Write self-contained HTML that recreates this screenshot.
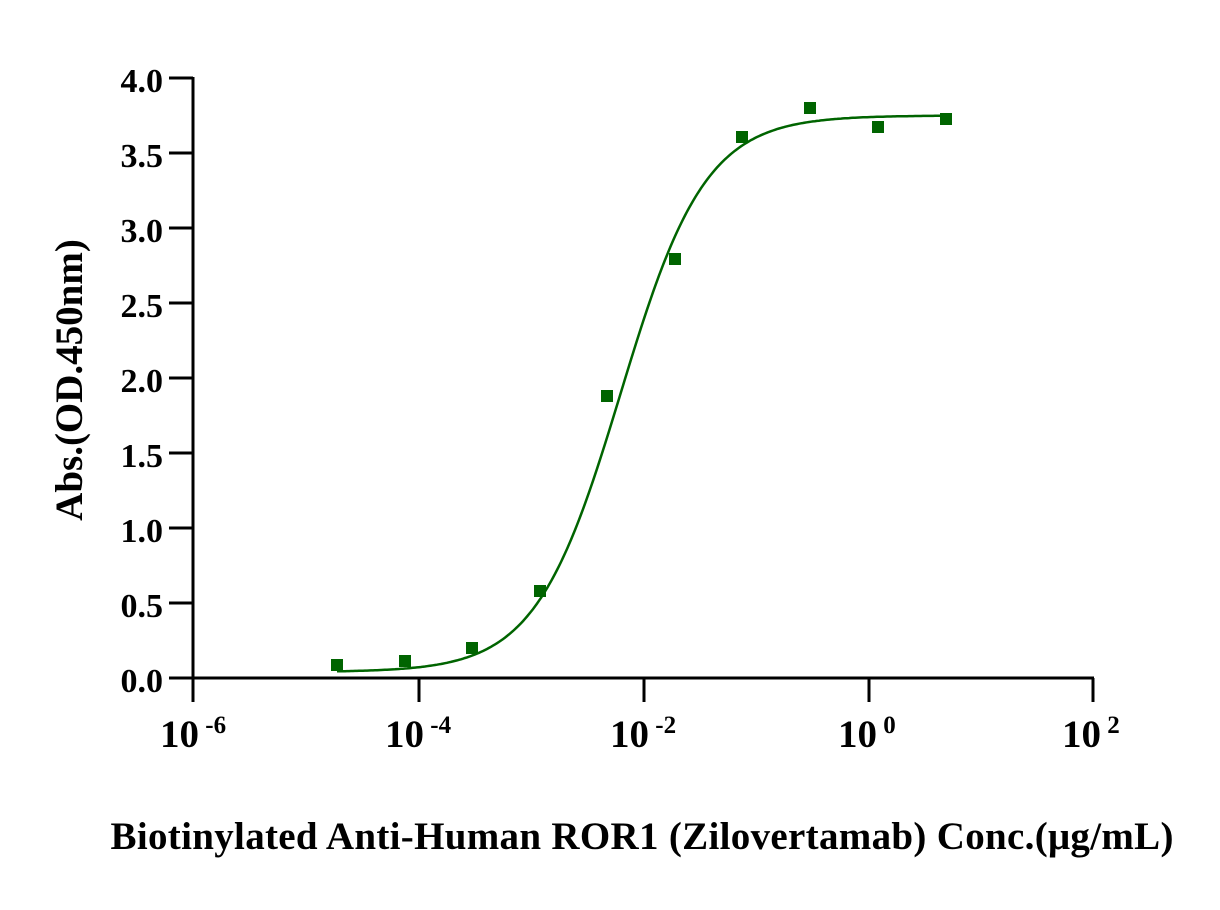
<!DOCTYPE html>
<html><head><meta charset="utf-8"><style>
html,body{margin:0;padding:0;background:#fff;}
svg text{font-family:"Liberation Serif",serif;font-weight:bold;fill:#000;}
</style></head><body>
<svg id="s" width="1220" height="905" xmlns="http://www.w3.org/2000/svg">
<g stroke="#000" stroke-width="3" fill="none">
<line x1="193" y1="77" x2="193" y2="679"/>
<line x1="192" y1="678" x2="1094" y2="678"/>
<line x1="169" y1="78" x2="193" y2="78"/>
<line x1="169" y1="153" x2="193" y2="153"/>
<line x1="169" y1="228" x2="193" y2="228"/>
<line x1="169" y1="303" x2="193" y2="303"/>
<line x1="169" y1="378" x2="193" y2="378"/>
<line x1="169" y1="453" x2="193" y2="453"/>
<line x1="169" y1="528" x2="193" y2="528"/>
<line x1="169" y1="603" x2="193" y2="603"/>
<line x1="169" y1="678" x2="193" y2="678"/>
<line x1="193" y1="678" x2="193" y2="702"/>
<line x1="419" y1="678" x2="419" y2="702"/>
<line x1="644" y1="678" x2="644" y2="702"/>
<line x1="869" y1="678" x2="869" y2="702"/>
<line x1="1093" y1="678" x2="1093" y2="702"/>
</g>
<g font-size="34" text-anchor="end">
<text x="163" y="92">4.0</text>
<text x="163" y="167">3.5</text>
<text x="163" y="242">3.0</text>
<text x="163" y="317">2.5</text>
<text x="163" y="392">2.0</text>
<text x="163" y="467">1.5</text>
<text x="163" y="542">1.0</text>
<text x="163" y="617">0.5</text>
<text x="163" y="692">0.0</text>
</g>
<g font-size="39">
<text x="160" y="747">10<tspan font-size="25" dy="-14"> -6</tspan></text>
<text x="385" y="747">10<tspan font-size="25" dy="-14"> -4</tspan></text>
<text x="610" y="747">10<tspan font-size="25" dy="-14"> -2</tspan></text>
<text x="838" y="747">10<tspan font-size="25" dy="-14"> 0</tspan></text>
<text x="1062" y="747">10<tspan font-size="25" dy="-14"> 2</tspan></text>
</g>
<text x="642" y="849" font-size="39" text-anchor="middle" textLength="1063">Biotinylated Anti-Human ROR1 (Zilovertamab) Conc.(μg/mL)</text>
<text transform="translate(82,380) rotate(-90)" font-size="39" text-anchor="middle">Abs.(OD.450nm)</text>
<path id="c" fill="none" stroke="#006400" stroke-width="2.5"/>
<g fill="#006400" id="pts"></g>
</svg>
<script>
var pts=[[337,665],[405,661],[472,648],[540,591],[607,396],[675,259],[742,137],[810,108],[878,127],[946,119]];
var g=document.getElementById('pts'),h='';
pts.forEach(function(p){h+='<rect x="'+(p[0]-6)+'" y="'+(p[1]-6)+'" width="12" height="12"/>';});
g.innerHTML=h;
var B=0.04,T=3.75,c=-2.2,k=1.15,d='';
for(var px=337;px<=946;px+=2){var lx=-6+(px-193)/112.5;var y=B+(T-B)/(1+Math.pow(10,(c-lx)*k));var py=678-150*y;d+=(d?'L':'M')+px+','+py.toFixed(1);}
document.getElementById('c').setAttribute('d',d);
</script>
</body></html>
